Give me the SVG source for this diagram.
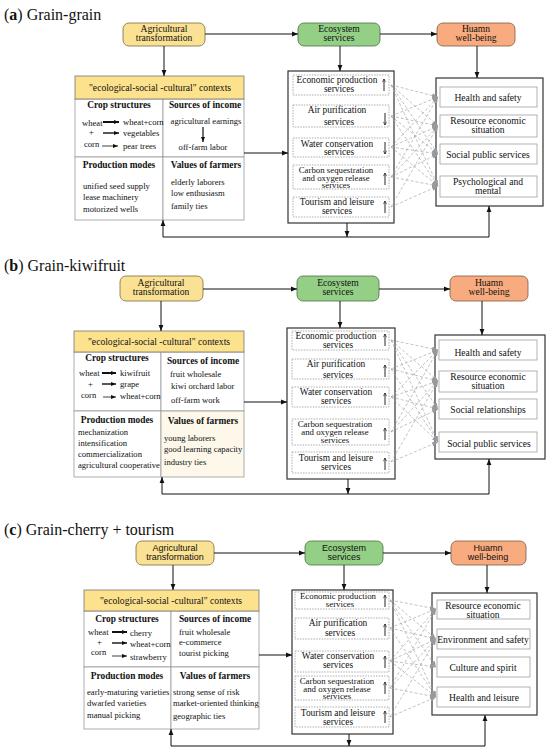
<svg xmlns="http://www.w3.org/2000/svg" width="550" height="755" viewBox="0 0 550 755">
<defs>
<marker id="ah" viewBox="0 0 10 10" refX="10" refY="5" markerWidth="6" markerHeight="6" markerUnits="userSpaceOnUse" orient="auto"><path d="M0,1 L10,5 L0,9 z" fill="#111"/></marker>
<marker id="gh" viewBox="0 0 10 10" refX="10" refY="5" markerWidth="6" markerHeight="6" markerUnits="userSpaceOnUse" orient="auto"><path d="M0,1 L10,5 L0,9 z" fill="#999"/></marker>
<marker id="ch" viewBox="0 0 10 10" refX="10" refY="5" markerWidth="5" markerHeight="5" markerUnits="userSpaceOnUse" orient="auto"><path d="M0,1 L10,5 L0,9 z" fill="#111"/></marker>
<marker id="oh" viewBox="0 0 10 10" refX="9" refY="5" markerWidth="4" markerHeight="4" markerUnits="userSpaceOnUse" orient="auto"><path d="M1,1 L9,5 L1,9" fill="none" stroke="#111" stroke-width="1.5"/></marker>
<g id="up"><line x1="0" y1="6" x2="0" y2="-6" stroke="#111" stroke-width="0.9" marker-end="url(#oh)"/></g>
<g id="dn"><line x1="0" y1="-6" x2="0" y2="6" stroke="#111" stroke-width="0.9" marker-end="url(#oh)"/></g>
</defs>
<style>
.t{font-family:"Liberation Serif","Times New Roman",serif;fill:#111;}
.ttl{font-family:"Liberation Serif","Times New Roman",serif;font-size:16px;fill:#111;}
.tb{font-size:9.6px;text-anchor:middle;}
.sv{font-size:9.4px;}
.s3{font-size:8.8px;}
.ts{font-family:"Liberation Sans",Arial,sans-serif;font-size:9px;fill:#111;text-anchor:middle;}
.ctx{font-size:8.6px;}
.hd{font-size:9.4px;font-weight:bold;text-anchor:middle;}
.mid{text-anchor:middle;}
.agri{fill:#fbe193;stroke:#7a6a40;stroke-width:0.8;}
.eco{fill:#94cf86;stroke:#4d6e45;stroke-width:0.8;}
.hwb{fill:#f8ab7f;stroke:#7a5a44;stroke-width:0.8;}
.hdr{fill:#fde28e;stroke:#777;stroke-width:0.8;}
.cell{fill:#fff;stroke:#999;stroke-width:0.8;}
.outer{fill:#fff;stroke:#333;stroke-width:1.2;}
.svc{fill:#fff;stroke:#999;stroke-width:0.8;stroke-dasharray:1.5,1.2;}
.wb{fill:#fff;stroke:#aaa;stroke-width:0.9;}
.ar{fill:none;stroke:#111;stroke-width:1;marker-end:url(#ah);}
.ln{fill:none;stroke:#111;stroke-width:1;}
.dash line{stroke:#a8a8a8;stroke-width:0.7;stroke-dasharray:3,2;marker-end:url(#gh);}
.c1{stroke:#111;stroke-width:2;marker-end:url(#ch);}
.c2{stroke:#111;stroke-width:1.4;marker-end:url(#ch);}
.c3{stroke:#111;stroke-width:0.8;marker-end:url(#ch);}
</style>
<rect width="550" height="755" fill="#fff"/>

<!-- ================= PANEL A ================= -->
<text class="ttl" x="4" y="20">(<tspan font-weight="bold">a</tspan>) Grain-grain</text>
<g id="a-agri"><rect class="agri" x="123" y="23" width="82" height="23" rx="6"/><text class="t tb" x="164" y="32">Agricultural</text><text class="t tb" x="164" y="41">transformation</text></g>
<g id="a-eco"><rect class="eco" x="298" y="23" width="82" height="23" rx="6"/><text class="t tb" x="339" y="32">Ecosystem</text><text class="t tb" x="339" y="41">services</text></g>
<g id="a-hwb"><rect class="hwb" x="437" y="23" width="78" height="23" rx="6"/><text class="t tb" x="476" y="32">Huamn</text><text class="t tb" x="476" y="41">well-being</text></g>

<g id="a-context">
<rect class="cell" x="75" y="99" width="88" height="58"/><rect class="cell" x="163" y="99" width="81" height="58"/>
<rect class="cell" x="75" y="157" width="88" height="63"/><rect class="cell" x="163" y="157" width="81" height="63"/>
<rect class="hdr" x="75" y="76" width="169" height="23"/>
<text class="t tb" x="160" y="91" font-size="9.5">"ecological-social -cultural" contexts</text>
<text class="t hd" x="119" y="108">Crop structures</text>
<text class="t hd" x="205" y="108">Sources of income</text>
<text class="t ctx" x="82" y="126">wheat</text><text class="t ctx" x="89" y="135">+</text><text class="t ctx" x="84" y="147">corn</text>
<line class="c1" x1="103" y1="122" x2="119" y2="122"/><line class="c2" x1="103" y1="133" x2="119" y2="133"/><line class="c3" x1="102" y1="146" x2="118" y2="146"/>
<text class="t ctx" x="123" y="125">wheat+corn</text><text class="t ctx" x="123" y="136">vegetables</text><text class="t ctx" x="123" y="149">pear trees</text>
<text class="t ctx mid" x="206" y="124">agricultural earnings</text>
<line x1="203" y1="127" x2="203" y2="142" stroke="#111" stroke-width="1.2" marker-end="url(#ch)"/>
<text class="t ctx mid" x="203" y="150">off-farm labor</text>
<text class="t hd" x="119" y="168">Production modes</text>
<text class="t hd" x="206" y="168">Values of farmers</text>
<text class="t ctx" x="83" y="189">unified seed supply</text><text class="t ctx" x="83" y="200">lease machinery</text><text class="t ctx" x="83" y="212">motorized wells</text>
<text class="t ctx" x="171" y="185">elderly laborers</text><text class="t ctx" x="171" y="196">low enthusiasm</text><text class="t ctx" x="171" y="209">family ties</text>
</g>

<g id="a-services">
<rect class="outer" x="288" y="71" width="106" height="152"/>
<rect class="svc" x="293" y="75" width="96" height="20"/><text class="t tb sv" x="337" y="83">Economic production</text><text class="t tb sv" x="339" y="92">services</text><use href="#up" x="384" y="85"/>
<rect class="svc" x="293" y="105" width="96" height="22"/><text class="t tb sv" x="337" y="113">Air purification</text><text class="t tb sv" x="339" y="125">services</text><use href="#dn" x="385" y="119"/>
<rect class="svc" x="293" y="138" width="96" height="19"/><text class="t tb sv" x="337" y="147">Water conservation</text><text class="t tb sv" x="339" y="155">services</text><use href="#dn" x="385" y="148"/>
<rect class="svc" x="293" y="165" width="96" height="24"/><text class="t tb s3" x="336" y="173">Carbon sequestration</text><text class="t tb s3" x="336" y="180.5">and oxygen release</text><text class="t tb s3" x="336" y="188">services</text><use href="#up" x="385" y="179"/>
<rect class="svc" x="293" y="197" width="96" height="20"/><text class="t tb sv" x="337" y="205">Tourism and leisure</text><text class="t tb sv" x="337" y="214">services</text><use href="#up" x="385" y="207"/>
</g>

<g id="a-wellbeing">
<rect class="outer" x="436" y="78" width="107" height="128"/>
<rect class="wb" x="440" y="87" width="97" height="20"/><text class="t tb" x="488" y="101">Health and safety</text>
<rect class="wb" x="440" y="115" width="97" height="22"/><text class="t tb" x="488" y="124">Resource economic</text><text class="t tb" x="488" y="133">situation</text>
<rect class="wb" x="440" y="144" width="97" height="20"/><text class="t tb" x="488" y="158">Social public services</text>
<rect class="wb" x="440" y="176" width="97" height="21"/><text class="t tb" x="488" y="185">Psychological and</text><text class="t tb" x="488" y="194">mental</text>
</g>

<g id="a-connectors">
<line class="ar" x1="205" y1="34" x2="298" y2="34"/>
<line class="ar" x1="380" y1="34" x2="437" y2="34"/>
<line class="ar" x1="164" y1="46" x2="164" y2="76"/>
<line class="ar" x1="340" y1="46" x2="340" y2="71"/>
<line class="ar" x1="477" y1="46" x2="477" y2="78"/>
<line class="ar" x1="244" y1="153" x2="288" y2="153"/>
<line class="ar" x1="347" y1="223" x2="347" y2="237"/>
<polyline class="ln" points="163,237 489,237"/>
<line class="ar" x1="163" y1="237" x2="163" y2="220"/>
<line class="ar" x1="489" y1="237" x2="489" y2="206"/>
<g class="dash">
<line x1="391" y1="85" x2="438" y2="97"/><line x1="391" y1="85" x2="438" y2="126"/><line x1="391" y1="85" x2="438" y2="154"/><line x1="391" y1="85" x2="438" y2="186"/>
<line x1="391" y1="116" x2="438" y2="97"/><line x1="391" y1="116" x2="438" y2="126"/><line x1="391" y1="116" x2="438" y2="154"/><line x1="391" y1="116" x2="438" y2="186"/>
<line x1="391" y1="147" x2="438" y2="97"/><line x1="391" y1="147" x2="438" y2="126"/><line x1="391" y1="147" x2="438" y2="154"/><line x1="391" y1="147" x2="438" y2="186"/>
<line x1="391" y1="177" x2="438" y2="97"/><line x1="391" y1="177" x2="438" y2="126"/><line x1="391" y1="177" x2="438" y2="154"/><line x1="391" y1="177" x2="438" y2="186"/>
<line x1="391" y1="207" x2="438" y2="126"/><line x1="391" y1="207" x2="438" y2="186"/>
</g>
</g>

<!-- ================= PANEL B ================= -->
<text class="ttl" x="4" y="271">(<tspan font-weight="bold">b</tspan>) Grain-kiwifruit</text>
<g id="b-agri"><rect class="agri" x="120" y="276" width="83" height="25" rx="6"/><text class="t tb" x="161" y="286">Agricultural</text><text class="t tb" x="161" y="295">transformation</text></g>
<g id="b-eco"><rect class="eco" x="297" y="276" width="82" height="25" rx="6"/><text class="t tb" x="338" y="286">Ecosystem</text><text class="t tb" x="338" y="295">services</text></g>
<g id="b-hwb"><rect class="hwb" x="450" y="276" width="78" height="25" rx="6"/><text class="t tb" x="489" y="286">Huamn</text><text class="t tb" x="489" y="295">well-being</text></g>

<g id="b-context">
<rect class="cell" x="74" y="352" width="87" height="59"/><rect class="cell" x="161" y="352" width="83" height="59"/>
<rect class="cell" x="74" y="411" width="87" height="66"/><rect x="161" y="411" width="83" height="66" fill="#fdf8ea" stroke="#999" stroke-width="0.8"/>
<rect class="hdr" x="74" y="331" width="170" height="21"/>
<text class="t tb" x="159" y="345" font-size="9.5">"ecological-social -cultural" contexts</text>
<text class="t hd" x="117" y="361">Crop structures</text>
<text class="t hd" x="203" y="364">Sources of income</text>
<text class="t ctx" x="79" y="376">wheat</text><text class="t ctx" x="88" y="387">+</text><text class="t ctx" x="81" y="398">corn</text>
<line class="c1" x1="102" y1="373" x2="116" y2="373"/><line class="c2" x1="102" y1="384" x2="116" y2="384"/><line class="c3" x1="103" y1="397" x2="116" y2="397"/>
<text class="t ctx" x="120" y="376">kiwifruit</text><text class="t ctx" x="120" y="387">grape</text><text class="t ctx" x="120" y="399">wheat+corn</text>
<text class="t ctx" x="170" y="377">fruit wholesale</text><text class="t ctx" x="171" y="389">kiwi orchard labor</text><text class="t ctx" x="171" y="403">off-farm work</text>
<text class="t hd" x="117" y="423">Production modes</text>
<text class="t hd" x="203" y="424">Values of farmers</text>
<text class="t ctx" x="78" y="435">mechanization</text><text class="t ctx" x="78" y="446">intensification</text><text class="t ctx" x="78" y="457">commercialization</text><text class="t ctx" x="78" y="468">agricultural cooperative</text>
<text class="t ctx" x="164" y="441">young laborers</text><text class="t ctx" x="164" y="452">good learning capacity</text><text class="t ctx" x="164" y="465">industry  ties</text>
</g>

<g id="b-services">
<rect class="outer" x="287" y="328" width="108" height="151"/>
<rect class="svc" x="292" y="331" width="97" height="19"/><text class="t tb sv" x="336" y="339">Economic production</text><text class="t tb sv" x="338" y="347.5">services</text><use href="#up" x="385" y="340"/>
<rect class="svc" x="292" y="359" width="97" height="20"/><text class="t tb sv" x="336" y="367">Air purification</text><text class="t tb sv" x="338" y="378">services</text><use href="#up" x="385" y="371"/>
<rect class="svc" x="292" y="387" width="97" height="20"/><text class="t tb sv" x="336" y="395">Water conservation</text><text class="t tb sv" x="336" y="404">services</text><use href="#up" x="385" y="399"/>
<rect class="svc" x="292" y="419" width="97" height="26"/><text class="t tb s3" x="335" y="427">Carbon sequestration</text><text class="t tb s3" x="335" y="435">and oxygen release</text><text class="t tb s3" x="335" y="443">services</text><use href="#up" x="385" y="434"/>
<rect class="svc" x="292" y="452" width="97" height="21"/><text class="t tb sv" x="336" y="461">Tourism and leisure</text><text class="t tb sv" x="336" y="469.5">services</text><use href="#up" x="385" y="464"/>
</g>

<g id="b-wellbeing">
<rect class="outer" x="435" y="335" width="110" height="124"/>
<rect class="wb" x="439" y="340" width="98" height="20"/><text class="t tb" x="488" y="356">Health and safety</text>
<rect class="wb" x="439" y="371" width="98" height="21"/><text class="t tb" x="488" y="380">Resource economic</text><text class="t tb" x="488" y="389">situation</text>
<rect class="wb" x="439" y="399" width="98" height="20"/><text class="t tb" x="488" y="413">Social relationships</text>
<rect class="wb" x="439" y="432" width="98" height="20"/><text class="t tb" x="489" y="447">Social public services</text>
</g>

<g id="b-connectors">
<line class="ar" x1="203" y1="289" x2="297" y2="289"/>
<line class="ar" x1="379" y1="289" x2="450" y2="289"/>
<line class="ar" x1="161" y1="301" x2="161" y2="331"/>
<line class="ar" x1="340" y1="301" x2="340" y2="328"/>
<line class="ar" x1="482" y1="301" x2="482" y2="335"/>
<line class="ar" x1="244" y1="402" x2="287" y2="402"/>
<line class="ar" x1="348" y1="479" x2="348" y2="494"/>
<polyline class="ln" points="162,494 489,494"/>
<line class="ar" x1="162" y1="494" x2="162" y2="477"/>
<line class="ar" x1="489" y1="494" x2="489" y2="459"/>
<g class="dash">
<line x1="391" y1="340" x2="438" y2="350"/><line x1="391" y1="340" x2="438" y2="381"/><line x1="391" y1="340" x2="438" y2="409"/><line x1="391" y1="340" x2="438" y2="442"/>
<line x1="391" y1="369" x2="438" y2="350"/><line x1="391" y1="369" x2="438" y2="381"/><line x1="391" y1="369" x2="438" y2="442"/>
<line x1="391" y1="397" x2="438" y2="350"/><line x1="391" y1="397" x2="438" y2="381"/><line x1="391" y1="397" x2="438" y2="409"/><line x1="391" y1="397" x2="438" y2="442"/>
<line x1="391" y1="432" x2="438" y2="350"/><line x1="391" y1="432" x2="438" y2="381"/><line x1="391" y1="432" x2="438" y2="409"/>
<line x1="391" y1="462" x2="438" y2="381"/><line x1="391" y1="462" x2="438" y2="442"/>
</g>
</g>

<!-- ================= PANEL C ================= -->
<text class="ttl" x="4" y="535">(<tspan font-weight="bold">c</tspan>) Grain-cherry + tourism</text>
<g id="c-agri"><rect class="agri" x="136" y="541" width="78" height="24" rx="6"/><text class="ts" x="175" y="551">Agricultural</text><text class="ts" x="175" y="560">transformation</text></g>
<g id="c-eco"><rect class="eco" x="305" y="541" width="78" height="24" rx="6"/><text class="ts" x="344" y="551">Ecosystem</text><text class="ts" x="344" y="560">services</text></g>
<g id="c-hwb"><rect class="hwb" x="451" y="541" width="75" height="24" rx="6"/><text class="ts" x="488" y="551">Huamn</text><text class="ts" x="488" y="560">well-being</text></g>

<g id="c-context">
<rect class="cell" x="84" y="611" width="87" height="56"/><rect class="cell" x="171" y="611" width="88" height="56"/>
<rect class="cell" x="84" y="667" width="87" height="62"/><rect class="cell" x="171" y="667" width="88" height="62"/>
<rect class="hdr" x="84" y="590" width="175" height="21"/>
<text class="t tb" x="171" y="604" font-size="9.5">"ecological-social -cultural" contexts</text>
<text class="t hd" x="127" y="622">Crop structures</text>
<text class="t hd" x="215" y="622">Sources of income</text>
<text class="t ctx" x="88" y="635">wheat</text><text class="t ctx" x="97" y="645">+</text><text class="t ctx" x="91" y="655">corn</text>
<line class="c1" x1="112" y1="632" x2="127" y2="632"/><line class="c2" x1="112" y1="643" x2="127" y2="643"/><line class="c3" x1="112" y1="656" x2="127" y2="656"/>
<text class="t ctx" x="130" y="636">cherry</text><text class="t ctx" x="130" y="647">wheat+corn</text><text class="t ctx" x="130" y="660">strawberry</text>
<text class="t ctx" x="179" y="635">fruit wholesale</text><text class="t ctx" x="179" y="645">e-commerce</text><text class="t ctx" x="179" y="656">tourist picking</text>
<text class="t hd" x="127" y="679">Production modes</text>
<text class="t hd" x="215" y="679">Values of farmers</text>
<text class="t ctx" x="87" y="695">early-maturing varieties</text><text class="t ctx" x="87" y="706">dwarfed varieties</text><text class="t ctx" x="87" y="718">manual picking</text>
<text class="t ctx" x="173" y="695">strong sense of risk</text><text class="t ctx" x="173" y="706">market-oriented thinking</text><text class="t ctx" x="173" y="719">geographic ties</text>
</g>

<g id="c-services">
<rect class="outer" x="292" y="590" width="101" height="144"/>
<rect class="svc" x="295" y="592" width="94" height="17"/><text class="t tb s3" x="338" y="599">Economic production</text><text class="t tb s3" x="340" y="607">services</text><use href="#up" x="385" y="601"/>
<rect class="svc" x="295" y="618" width="94" height="21"/><text class="t tb sv" x="338" y="626">Air purification</text><text class="t tb sv" x="340" y="636">services</text><use href="#up" x="385" y="630"/>
<rect class="svc" x="295" y="651" width="94" height="21"/><text class="t tb sv" x="338" y="659">Water conservation</text><text class="t tb sv" x="338" y="668">services</text><use href="#up" x="385" y="662"/>
<rect class="svc" x="295" y="676" width="94" height="24"/><text class="t tb s3" x="337" y="684">Carbon sequestration</text><text class="t tb s3" x="337" y="691.5">and oxygen release</text><text class="t tb s3" x="337" y="699">services</text><use href="#up" x="385" y="688"/>
<rect class="svc" x="295" y="707" width="94" height="20"/><text class="t tb sv" x="338" y="716">Tourism and leisure</text><text class="t tb sv" x="338" y="724.5">services</text><use href="#up" x="385" y="717"/>
</g>

<g id="c-wellbeing">
<rect class="outer" x="432" y="593" width="105" height="122"/>
<rect class="wb" x="437" y="600" width="93" height="19"/><text class="t tb" x="483" y="609">Resource economic</text><text class="t tb" x="483" y="617.5">situation</text>
<rect class="wb" x="437" y="629" width="93" height="20"/><text class="t tb" x="483" y="643">Environment and safety</text>
<rect class="wb" x="437" y="657" width="93" height="20"/><text class="t tb" x="483" y="671">Culture and spirit</text>
<rect class="wb" x="437" y="687" width="93" height="20"/><text class="t tb" x="484" y="701">Health and leisure</text>
</g>

<g id="c-connectors">
<line class="ar" x1="214" y1="553" x2="305" y2="553"/>
<line class="ar" x1="383" y1="553" x2="451" y2="553"/>
<line class="ar" x1="173" y1="565" x2="173" y2="590"/>
<line class="ar" x1="344" y1="565" x2="344" y2="590"/>
<line class="ar" x1="487" y1="565" x2="487" y2="593"/>
<line class="ar" x1="259" y1="655" x2="292" y2="655"/>
<line class="ar" x1="349" y1="734" x2="349" y2="746"/>
<polyline class="ln" points="171,746 485,746"/>
<line class="ar" x1="171" y1="746" x2="171" y2="729"/>
<line class="ar" x1="485" y1="746" x2="485" y2="715"/>
<g class="dash">
<line x1="390" y1="600" x2="436" y2="609"/><line x1="390" y1="600" x2="436" y2="639"/><line x1="390" y1="600" x2="436" y2="667"/><line x1="390" y1="600" x2="436" y2="697"/>
<line x1="390" y1="628" x2="436" y2="609"/><line x1="390" y1="628" x2="436" y2="639"/><line x1="390" y1="628" x2="436" y2="697"/>
<line x1="390" y1="661" x2="436" y2="609"/><line x1="390" y1="661" x2="436" y2="639"/><line x1="390" y1="661" x2="436" y2="667"/><line x1="390" y1="661" x2="436" y2="697"/>
<line x1="390" y1="688" x2="436" y2="609"/><line x1="390" y1="688" x2="436" y2="639"/><line x1="390" y1="688" x2="436" y2="697"/>
<line x1="390" y1="717" x2="436" y2="639"/><line x1="390" y1="717" x2="436" y2="697"/>
</g>
</g>
</svg>
